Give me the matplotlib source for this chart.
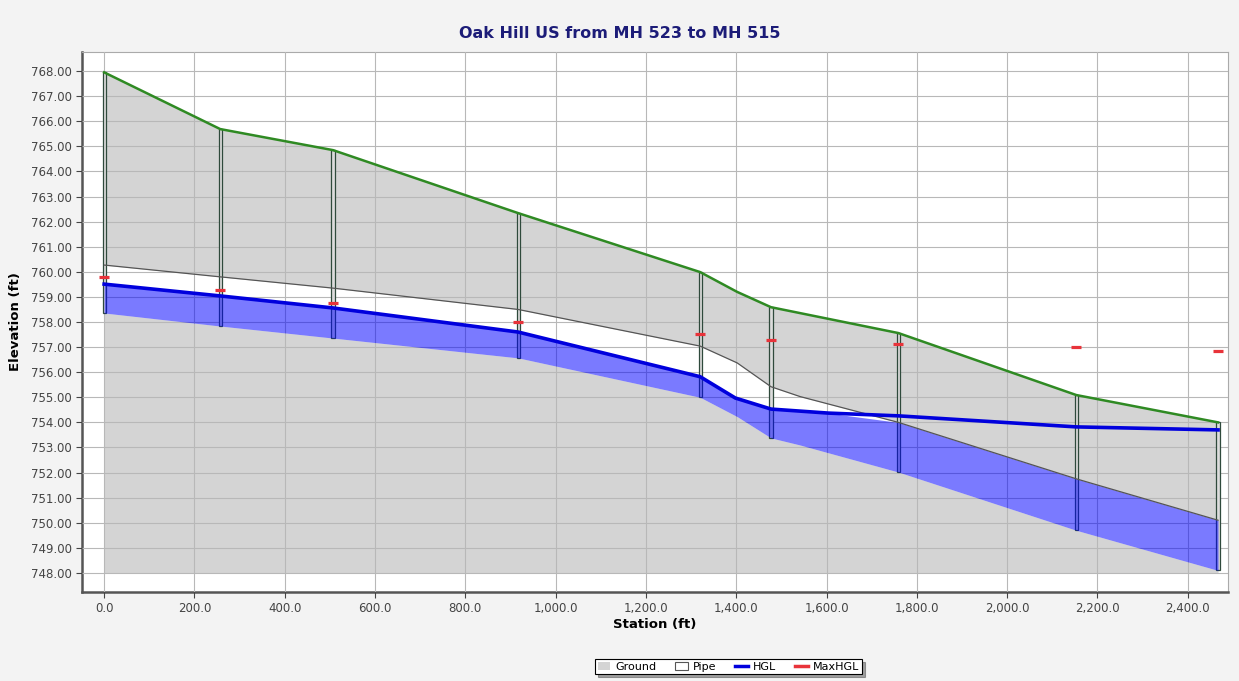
import matplotlib as mpl
mpl.use('Agg')
from matplotlib import pyplot as plt
from matplotlib.ticker import FuncFormatter, MultipleLocator
from matplotlib.patches import Rectangle
from matplotlib.lines import Line2D
import numpy as np

# profile data (station ft, elevation ft)
mh_sta = [0, 257, 507, 917, 1320, 1477, 1759, 2153, 2467]
mh_ground = [767.95, 765.69, 764.85, 762.34, 759.99, 758.59, 757.56, 755.09, 754.0]
mh_invert = [758.36, 757.84, 757.36, 756.57, 755.0, 753.38, 752.02, 749.7, 748.1]
max_hgl = [759.8, 759.27, 758.76, 758.0, 757.52, 757.28, 757.12, 757.0, 756.84]

ground_sta = [0, 257, 507, 917, 1320, 1402, 1477, 1759, 2153, 2467]
ground_elev = [767.95, 765.69, 764.85, 762.34, 759.99, 759.2, 758.59, 757.56, 755.09, 754.0]

pipe_sta = [0, 257, 507, 917, 1320, 1402, 1477, 1541, 1759, 2153, 2467]
crown = [760.27, 759.8, 759.35, 758.5, 757.04, 756.37, 755.42, 755.03, 754.0, 751.75, 750.1]
invert = [758.36, 757.84, 757.36, 756.57, 755.0, 754.23, 753.38, 753.1, 752.02, 749.7, 748.1]

hgl_sta = [0, 257, 507, 917, 1320, 1398, 1477, 1604, 1759, 2153, 2467]
hgl = [759.51, 759.04, 758.56, 757.6, 755.82, 754.97, 754.53, 754.37, 754.26, 753.82, 753.7]

ybase = 748.0

fig = plt.figure(figsize=(12.39, 6.81), dpi=100)
fig.patch.set_facecolor('#f3f3f3')
ax = fig.add_axes([0.0662, 0.1307, 0.9249, 0.7929])
ax.set_facecolor('white')

# ground
ax.fill_between(ground_sta, ybase, ground_elev, color='#d4d4d4', lw=0, zorder=1)
ax.plot(ground_sta, ground_elev, color='#2f8a23', lw=1.8, zorder=6)

# pipe (white) and flow (blue)
xs = np.array(sorted(set(pipe_sta + hgl_sta)), dtype=float)
cr = np.interp(xs, pipe_sta, crown)
inv = np.interp(xs, pipe_sta, invert)
hg = np.interp(xs, hgl_sta, hgl)
ax.fill_between(xs, inv, cr, color='white', lw=0, zorder=2)
ax.plot(pipe_sta, crown, color='#555555', lw=0.9, zorder=5)

# manholes
for s, g, b in zip(mh_sta, mh_ground, mh_invert):
    ax.add_patch(Rectangle((s - 3.5, b), 7, g - b, facecolor='#dcdcdc',
                           edgecolor='#2f4a3c', lw=0.9, zorder=3))

ax.fill_between(xs, inv, np.minimum(hg, cr), color='#0000ff', alpha=0.52,
                lw=0, zorder=4)
ax.plot(hgl_sta, hgl, color='#0000dd', lw=2.6, zorder=7)
ax.plot(mh_sta, max_hgl, ls='none', marker='_', ms=7, mew=2.3,
        color='#e8333a', zorder=8)

ax.set_xlim(-49, 2489)
ax.set_ylim(747.24, 768.76)
ax.xaxis.set_major_locator(MultipleLocator(200))
ax.yaxis.set_major_locator(MultipleLocator(1))
ax.xaxis.set_major_formatter(FuncFormatter(lambda v, p: '{:,.1f}'.format(v)))
ax.yaxis.set_major_formatter(FuncFormatter(lambda v, p: '%.2f' % v))
ax.grid(True, color='#b8b8b8', lw=0.8, zorder=0)
ax.set_axisbelow(False)
for gl in ax.get_xgridlines() + ax.get_ygridlines():
    gl.set_zorder(1.5)
ax.tick_params(labelsize=8.5, colors='#444444', length=4, width=0.8)
for sp in ['left', 'bottom']:
    ax.spines[sp].set_color('#555555')
    ax.spines[sp].set_linewidth(1.8)
for sp in ['top', 'right']:
    ax.spines[sp].set_color('#aaaaaa')
    ax.spines[sp].set_linewidth(0.8)

ax.set_xlabel('Station (ft)', fontsize=9.5, fontweight='bold', labelpad=2)
ax.set_ylabel('Elevation (ft)', fontsize=9.5, fontweight='bold', labelpad=6)
fig.text(0.5, 0.951, 'Oak Hill US from MH 523 to MH 515', ha='center',
         va='center', fontsize=11.5, fontweight='bold', color='#1c1c78')

handles = [Rectangle((0, 0), 1, 1, facecolor='#d4d4d4', edgecolor='none'),
           Rectangle((0, 0), 1, 1, facecolor='white', edgecolor='#555555', lw=0.8),
           Line2D([], [], color='#0000dd', lw=2.5),
           Line2D([], [], color='#e8333a', lw=2.5)]
leg = fig.legend(handles, ['Ground', 'Pipe', 'HGL', 'MaxHGL'], ncol=4,
                 loc='center', bbox_to_anchor=(0.588, 0.021), fontsize=8,
                 frameon=True, fancybox=False, shadow=True, handlelength=1.1,
                 handleheight=0.8, handletextpad=0.5, columnspacing=1.7,
                 borderpad=0.2)
leg.get_frame().set_edgecolor('black')
leg.get_frame().set_linewidth(0.8)

fig.savefig('out.png', dpi=100, facecolor=fig.get_facecolor())
